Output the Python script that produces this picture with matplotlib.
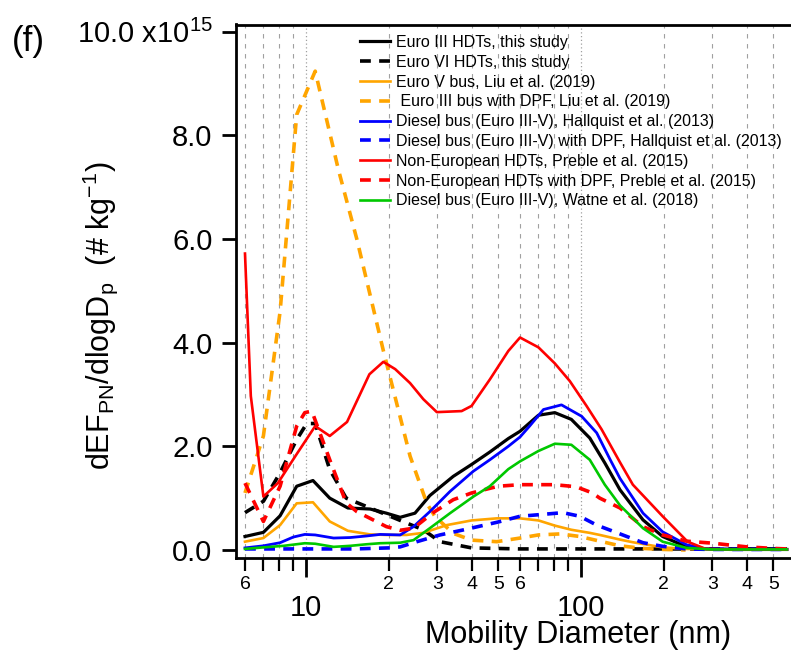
import numpy as np
import matplotlib
matplotlib.use('Agg')
import matplotlib.pyplot as plt
from matplotlib.ticker import FixedLocator, NullFormatter

plt.rcParams['font.family'] = 'Liberation Sans'
plt.rcParams['mathtext.fontset'] = 'custom'
plt.rcParams['mathtext.rm'] = 'Liberation Sans'
plt.rcParams['mathtext.it'] = 'Liberation Sans'

# size distributions, dEF/dlogDp in units of 1e15 # kg-1, Dp in nm
d_euro3_hdt = [6.0, 7.0, 8.05, 9.25, 10.6, 12.2, 14.2, 17.1, 19.6, 22, 24.9, 28.2, 34.3, 40, 46.6,
               54.4, 60, 70, 80.3, 92.2, 107.6, 122, 138.6, 168, 198, 242, 285, 350, 450, 560]
v_euro3_hdt = [0.26, 0.34, 0.66, 1.23, 1.34, 1.0, 0.81, 0.79, 0.71, 0.63, 0.71, 1.05, 1.42, 1.65, 1.89,
               2.15, 2.29, 2.60, 2.65, 2.52, 2.16, 1.68, 1.16, 0.58, 0.26, 0.06, 0.02, 0.01, 0.01, 0.01]

d_euro6_hdt = [6.0, 7.0, 8.05, 9.25, 10.06, 10.8, 12.2, 14.0, 17.1, 19.6, 23.2, 26.7, 30.7, 40, 60,
               100, 200, 560]
v_euro6_hdt = [0.72, 0.94, 1.49, 2.13, 2.44, 2.44, 1.55, 1.0, 0.81, 0.68, 0.52, 0.39, 0.16, 0.04, 0.02,
               0.02, 0.02, 0.02]

d_euro5_bus = [6.0, 7.0, 8.05, 9.25, 10.6, 12.2, 14.2, 17.1, 19.6, 23.2, 26.7, 32.5, 40, 49.4, 60,
               70, 80.3, 92.2, 107.6, 117, 138.6, 154, 198, 242, 300, 560]
v_euro5_bus = [0.16, 0.23, 0.48, 0.90, 0.92, 0.55, 0.37, 0.30, 0.29, 0.29, 0.33, 0.48, 0.57, 0.61, 0.61,
               0.57, 0.47, 0.39, 0.33, 0.29, 0.20, 0.15, 0.05, 0.02, 0.01, 0.01]

d_euro3_dpf = [6.0, 7.0, 8.05, 9.25, 10.8, 13.1, 15.3, 19.1, 23.9, 27.5, 29.4, 34.3, 40, 49.4, 60,
               70, 84, 99, 117, 138.6, 168, 200, 240]
v_euro3_dpf = [1.10, 2.2, 4.6, 8.4, 9.24, 7.35, 6.0, 3.85, 1.81, 0.90, 0.65, 0.32, 0.19, 0.16, 0.23,
               0.29, 0.31, 0.26, 0.17, 0.08, 0.03, 0.01, 0.0]

d_hallquist = [6.0, 7.0, 8.05, 9.0, 9.9, 10.8, 12.6, 14.5, 16.6, 18.6, 22, 24.6, 28.2, 33.4, 40.6,
               46.6, 54.4, 60, 65, 73, 84.9, 100.5, 114, 127.7, 138.6, 168, 198, 242, 285, 560]
v_hallquist = [0.04, 0.08, 0.14, 0.25, 0.30, 0.29, 0.23, 0.24, 0.27, 0.30, 0.29, 0.45, 0.74, 1.13, 1.52,
               1.74, 2.0, 2.18, 2.39, 2.71, 2.80, 2.58, 2.26, 1.74, 1.38, 0.71, 0.35, 0.10, 0.02, 0.01]

d_hallquist_dpf = [6.0, 10, 15, 20, 22, 25.3, 30.7, 38.3, 50, 60, 70, 86, 99, 114, 138.6, 168, 198,
                   242, 300, 560]
v_hallquist_dpf = [0.02, 0.02, 0.02, 0.04, 0.06, 0.16, 0.29, 0.40, 0.54, 0.65, 0.68, 0.72, 0.65, 0.48,
                   0.31, 0.14, 0.07, 0.02, 0.01, 0.01]

d_preble = [6.0, 6.3, 7.0, 7.9, 9.25, 10.8, 12.2, 14.1, 17.0, 19.1, 21.1, 23.9, 26.7, 29.9, 36.8, 40,
            46.6, 54.4, 60, 70, 80.3, 91, 104.7, 118.7, 138.6, 154.3, 198, 244, 284, 350, 560]
v_preble = [5.72, 2.97, 1.03, 1.29, 1.85, 2.39, 2.2, 2.47, 3.39, 3.63, 3.49, 3.22, 2.91, 2.66, 2.68, 2.78,
            3.29, 3.84, 4.10, 3.91, 3.60, 3.26, 2.78, 2.33, 1.69, 1.26, 0.65, 0.16, 0.02, 0.01, 0.01]

d_preble_dpf = [6.0, 7.0, 8.05, 9.25, 9.9, 10.5, 12.2, 14.0, 15.3, 19.6, 22, 24.6, 29, 34.3, 40, 50,
                60, 80, 96, 110, 117, 138.6, 168, 198, 242, 302, 400, 500, 560]
v_preble_dpf = [1.29, 0.55, 1.23, 2.39, 2.65, 2.68, 1.74, 0.91, 0.74, 0.45, 0.38, 0.42, 0.72, 0.97, 1.1,
                1.23, 1.26, 1.26, 1.22, 1.10, 1.0, 0.81, 0.45, 0.29, 0.17, 0.13, 0.06, 0.03, 0.02]

d_watne = [6.0, 7.0, 8.3, 9.9, 10.8, 12.6, 14.5, 16.6, 18.6, 22, 24.6, 28.2, 33.4, 40.6, 46.6, 54.4,
           60, 70, 80.3, 92.2, 107.6, 122, 138.6, 168, 198, 242, 300, 560]
v_watne = [0.02, 0.05, 0.08, 0.13, 0.12, 0.06, 0.08, 0.11, 0.13, 0.14, 0.19, 0.42, 0.71, 1.03, 1.23, 1.56,
           1.71, 1.91, 2.05, 2.03, 1.74, 1.26, 0.86, 0.42, 0.16, 0.04, 0.01, 0.01]

labels = ['Euro III HDTs, this study',
          'Euro VI HDTs, this study',
          'Euro V bus, Liu et al. (2019)',
          ' Euro III bus with DPF, Liu et al. (2019)',
          'Diesel bus (Euro III-V), Hallquist et al. (2013)',
          'Diesel bus (Euro III-V) with DPF, Hallquist et al. (2013)',
          'Non-European HDTs, Preble et al. (2015)',
          'Non-European HDTs with DPF, Preble et al. (2015)',
          'Diesel bus (Euro III-V), Watne et al. (2018)']

minor_ticks = [6, 7, 8, 9, 20, 30, 40, 50, 60, 70, 80, 90, 200, 300, 400, 500]
minor_labels = ['6', '', '', '', '2', '3', '4', '5', '6', '', '', '', '2', '3', '4', '5']
y_ticks = [0, 2, 4, 6, 8, 10]
y_labels = ['0.0', '2.0', '4.0', '6.0', '8.0', '10.0 x10$^{15}$']

W, H = 791, 651
fig = plt.figure(figsize=(W / 100, H / 100), dpi=100)
ax = fig.add_axes([236 / W, 1 - 558 / H, 1 - 236 / W, (558 - 24.5) / H])

green = '#00C800'
dash = (0, (3.0, 2.3))
ax.plot(d_euro3_hdt, v_euro3_hdt, color='k', lw=2.3, label=labels[0])
ax.plot(d_euro6_hdt, v_euro6_hdt, color='k', lw=2.6, ls=dash, label=labels[1])
ax.plot(d_euro5_bus, v_euro5_bus, color='orange', lw=1.9, label=labels[2])
ax.plot(d_euro3_dpf, v_euro3_dpf, color='orange', lw=2.6, ls=dash, label=labels[3])
ax.plot(d_hallquist, v_hallquist, color='blue', lw=2.0, label=labels[4])
ax.plot(d_hallquist_dpf, v_hallquist_dpf, color='blue', lw=2.6, ls=dash, label=labels[5])
ax.plot(d_preble, v_preble, color='red', lw=1.9, label=labels[6])
ax.plot(d_preble_dpf, v_preble_dpf, color='red', lw=2.6, ls=dash, label=labels[7])
ax.plot(d_watne, v_watne, color=green, lw=1.9, label=labels[8])

ax.set_xscale('log')
ax.set_xlim(5.565, 580)
ax.set_ylim(-0.155, 10.14)

# vertical grid: dashed at minor ticks, dotted at decades
for x in minor_ticks:
    ax.axvline(x, color='#A0A0A0', lw=0.8, ls=(0, (4, 5)), zorder=0)
for x in [10, 100]:
    ax.axvline(x, color='#A0A0A0', lw=0.9, ls=(0, (1, 2)), zorder=0)

ax.xaxis.set_major_locator(FixedLocator([10, 100]))
ax.set_xticklabels(['10', '100'], fontsize=21)
ax.xaxis.set_minor_locator(FixedLocator(minor_ticks))
ax.set_xticklabels(minor_labels, minor=True, fontsize=14)
ax.tick_params(axis='x', which='major', length=14, width=2, pad=12)
ax.tick_params(axis='x', which='minor', length=9, width=1.6, pad=4)

ax.set_yticks(y_ticks)
ax.set_yticklabels(y_labels, fontsize=21)
ax.yaxis.set_minor_formatter(NullFormatter())
ax.tick_params(axis='y', which='major', length=10, width=2, pad=7)

for s in ['left', 'top', 'bottom']:
    ax.spines[s].set_linewidth(2)
ax.spines['right'].set_visible(False)

fig.text(578 / W, 1 - 635 / H, 'Mobility Diameter (nm)', fontsize=22, ha='center', va='center')
fig.text(100 / W, 1 - 316 / H,
         r'dEF$_{\mathrm{PN}}$/dlogD$_{\mathrm{p}}$  (# kg$^{\mathrm{-1}}$)',
         fontsize=22, rotation=90, ha='center', va='center')
fig.text(12 / W, 1 - 41 / H, '(f)', fontsize=25, ha='left', va='center')

ax.legend(loc='upper left', bbox_to_anchor=(360 / W, 1 - 35 / H), bbox_transform=fig.transFigure,
          frameon=False, fontsize=11.5, handlelength=1.85, handletextpad=0.4,
          labelspacing=0.3, borderpad=0, borderaxespad=0)

fig.savefig('out.png', dpi=100)
